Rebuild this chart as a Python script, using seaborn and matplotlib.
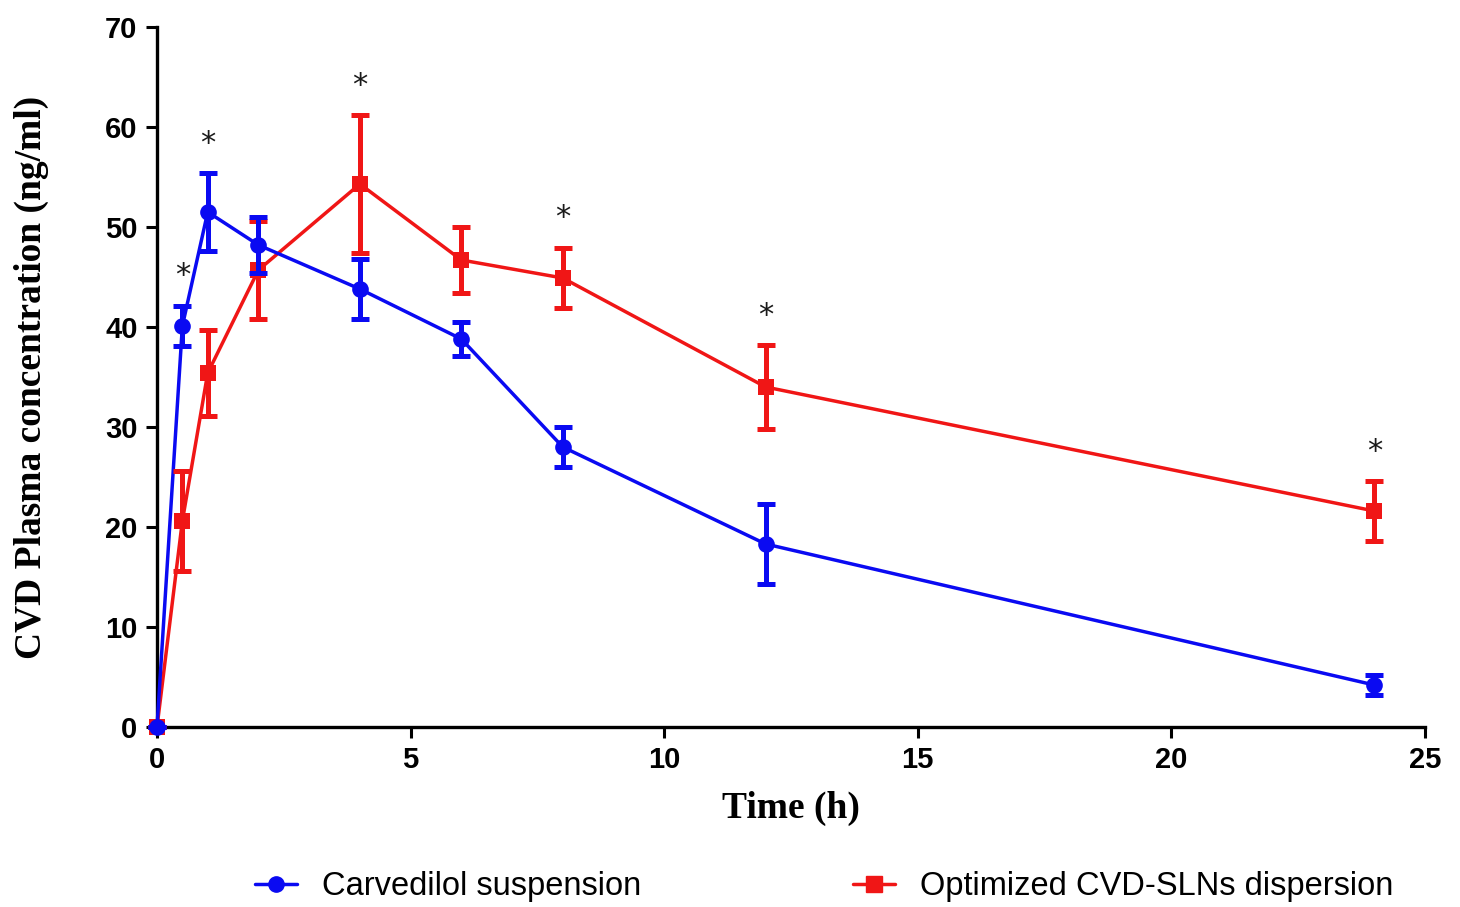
import numpy as np
import pandas as pd
import matplotlib
matplotlib.use("Agg")
import matplotlib.pyplot as plt
from matplotlib import font_manager
from matplotlib.lines import Line2D
import seaborn as sns

# ---- data ----
time_h = [0, 0.5, 1, 2, 4, 6, 8, 12, 24]
susp_mean = [0, 40.1, 51.5, 48.2, 43.8, 38.8, 28.0, 18.3, 4.2]
susp_err = [0, 2.0, 3.9, 2.8, 3.0, 1.7, 2.0, 4.0, 1.0]
sln_mean = [0, 20.6, 35.4, 45.7, 54.3, 46.7, 44.9, 34.0, 21.6]
sln_err = [0, 5.0, 4.3, 4.9, 6.9, 3.3, 3.0, 4.2, 3.0]
sig_times = [0.5, 1, 4, 8, 12, 24]
series_names = ["Carvedilol suspension", "Optimized CVD-SLNs dispersion"]
x_ticks = [0, 5, 10, 15, 20, 25]
y_ticks = [0, 10, 20, 30, 40, 50, 60, 70]

BLUE = "#0a0af2"
RED = "#f01616"

sns.set_style("ticks")
plt.rcParams["font.family"] = ["Liberation Sans", "DejaVu Sans"]
plt.rcParams.update({"text.color": "black", "axes.labelcolor": "black",
                     "xtick.color": "black", "ytick.color": "black",
                     "axes.edgecolor": "black"})

avail = {f.name for f in font_manager.fontManager.ttflist}
narrow = "Liberation Sans Narrow" in avail

df = pd.DataFrame({
    "time": time_h * 2,
    "conc": susp_mean + sln_mean,
    "group": [series_names[0]] * len(time_h) + [series_names[1]] * len(time_h),
})

fig = plt.figure(figsize=(14.6, 9.07), dpi=100)
ax = fig.add_axes([157 / 1460, 180 / 907, (1425 - 157) / 1460, 700 / 907])

sns.lineplot(data=df, x="time", y="conc", hue="group", style="group",
             markers={series_names[0]: "o", series_names[1]: "s"}, dashes=False,
             palette={series_names[0]: BLUE, series_names[1]: RED},
             hue_order=[series_names[1], series_names[0]],
             linewidth=2.5, markersize=12, markeredgewidth=0, ax=ax,
             legend=False, clip_on=False, zorder=3)

for mean, err, col in [(sln_mean, sln_err, RED), (susp_mean, susp_err, BLUE)]:
    ax.errorbar(time_h, mean, yerr=err, fmt="none", ecolor=col, elinewidth=3.6,
                capsize=6.5, capthick=3.6, zorder=4, clip_on=False)

# significance asterisks above the highest error bar
for t in sig_times:
    i = time_h.index(t)
    top = max(susp_mean[i] + susp_err[i], sln_mean[i] + sln_err[i])
    ax.text(t, top + 3.0, "*", ha="center", va="center", fontsize=22,
            color="#1a1a1a", family=["DejaVu Sans"])

ax.set_xlim(0, 25)
ax.set_ylim(0, 70)
ax.set_xticks(x_ticks)
ax.set_yticks(y_ticks)
ax.tick_params(axis="both", length=8, width=2.2, labelsize=21, pad=6)
for lab in ax.get_xticklabels() + ax.get_yticklabels():
    lab.set_fontweight("bold")
for s in ["left", "bottom"]:
    ax.spines[s].set_linewidth(2.4)
sns.despine(ax=ax)

ax.set_xlabel("Time (h)", family=["Liberation Serif"], fontweight="bold",
              fontsize=27, labelpad=12)
ax.set_ylabel("CVD Plasma concentration (ng/ml)", family=["Liberation Serif"],
              fontweight="bold", fontsize=27, labelpad=40)

handles = [
    Line2D([], [], color=BLUE, marker="o", markersize=11, linewidth=2.5),
    Line2D([], [], color=RED, marker="s", markersize=11, linewidth=2.5),
]
if narrow:
    lfont = {"family": "Liberation Sans Narrow", "size": 28}
    hl, htp, cs = 1.05, 0.62, 5.3
else:
    lfont = {"family": "Liberation Sans", "size": 23.5}
    hl, htp, cs = 1.3, 0.75, 6.5
fig.legend(handles, series_names, loc="center", bbox_to_anchor=(824 / 1460, 1 - 887 / 907),
           ncol=2, frameon=False, prop=lfont, handlelength=hl, handletextpad=htp,
           columnspacing=cs)

fig.savefig("out.png", dpi=100)
